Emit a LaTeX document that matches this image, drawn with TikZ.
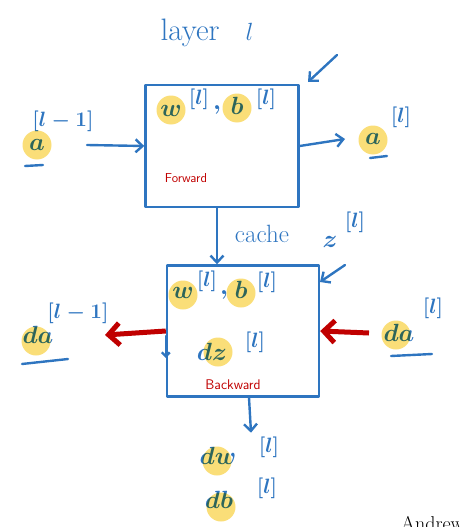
\documentclass[tikz,border=0pt]{standalone}
\usepackage{amsmath,amssymb}
\usetikzlibrary{arrows.meta}

\definecolor{penblue}{RGB}{46,117,192}
\definecolor{hlyellow}{RGB}{250,222,120}
\definecolor{penred}{RGB}{192,0,0}

\begin{document}
\begin{tikzpicture}[x=1pt, y=-1pt,
    pen/.style={penblue, line width=2.4pt, line cap=round, line join=round},
    penarrow/.style={pen, -{Straight Barb[length=7pt, width=13pt]}},
    redarrow/.style={penred, line width=5pt, -{Straight Barb[length=11pt, width=22pt]}},
    box/.style={pen, draw, rectangle, inner sep=0pt},
    var/.style={penblue, inner sep=0pt, font=\fontsize{45}{45}\selectfont\boldmath},
    sup/.style={penblue, inner sep=0pt, font=\fontsize{20}{20}\selectfont\boldmath},
    note/.style={penred, inner sep=0pt, font=\sffamily\fontsize{13}{13}\selectfont}]
  \useasboundingbox (0,0) rectangle (459,527);

  % title
  \node[penblue, font=\fontsize{31}{31}\selectfont] (title) at (207,33) {layer\hspace{26pt}$l$};

  % forward step
  \node[box, minimum width=153pt, minimum height=122pt] (fwd) at (222,146) {};
  \node[var] (w1) at (171,111) {$w$};
  \node[sup] (w1sup) at (199,99) {$[l]$};
  \node[var] (c1) at (217,110) {$,$};
  \node[var] (b1) at (237,106) {$b$};
  \node[sup] (b1sup) at (266,99) {$[l]$};
  \node[note] (fwdlbl) at (186,178) {Forward};

  \node[var] (aprev) at (37,145) {$a$};
  \node[sup] (aprevsup) at (63,121) {$[l-1]$};
  \node[var] (anext) at (373,139) {$a$};
  \node[sup] (anextsup) at (401,117) {$[l]$};

  \draw[penarrow] ([xshift=50]aprev.center) -- (fwd.west);
  \draw[penarrow] (fwd.east) -- ([xshift=-28]anext.center);
  \coordinate (fwdin) at (337,55);
  \coordinate (fwdcorner) at (308,82);
  \draw[penarrow] (fwdin) -- (fwdcorner);

  % cache
  \node[penblue, inner sep=0pt, font=\fontsize{25}{25}\selectfont] (cache) at (262,234) {cache};
  \node[penblue, inner sep=0pt, font=\fontsize{30}{30}\selectfont\boldmath] (z) at (330,242) {$z$};
  \node[sup] (zsup) at (355,222) {$[l]$};

  % backward step
  \node[box, minimum width=152pt, minimum height=131pt] (bwd) at (243,331) {};
  \draw[penarrow] ([xshift=-5]fwd.south) -- ([xshift=-5]fwd.south |- bwd.north);
  \coordinate (bwdin) at (345,265);
  \coordinate (bwdcorner) at (320,282);
  \draw[penarrow] (bwdin) -- (bwdcorner);

  \node[var] (w2) at (183,293) {$w$};
  \node[sup] (w2sup) at (207,281) {$[l]$};
  \node[var] (c2) at (224,295) {$,$};
  \node[var] (b2) at (241,290) {$b$};
  \node[sup] (b2sup) at (267,282) {$[l]$};
  \node[var] (dz) at (212,352) {$dz$};
  \node[sup] (dzsup) at (255,342) {$[l]$};
  \node[note, font=\sffamily\fontsize{14}{14}\selectfont] (bwdlbl) at (233,385) {Backward};

  \node[var] (daR) at (399,333) {$da$};
  \node[sup] (daRsup) at (433,308) {$[l]$};
  \node[var] (daL) at (38,335) {$da$};
  \node[sup] (daLsup) at (78,313) {$[l-1]$};

  \draw[redarrow] ([xshift=-30]daR.center) -- (bwd.east);
  \draw[redarrow] (bwd.west) -- ([xshift=67]daL.center);
  \draw[penarrow, -{Straight Barb[length=4pt, width=8pt]}] ([yshift=-5]bwd.west) -- ([yshift=-27]bwd.west);

  \node[var] (dw) at (218,456) {$dw$};
  \node[sup] (dwsup) at (269,447) {$[l]$};
  \node[var] (db) at (219,500) {$db$};
  \node[sup] (dbsup) at (267,488) {$[l]$};
  \draw[penarrow] ([xshift=6]bwd.south) -- ([xshift=8, yshift=-35]bwd.south);

  % underlines
  \draw[pen] ([shift={(-12,21)}]aprev.center) -- ([shift={(6,20)}]aprev.center);
  \draw[pen] ([shift={(-3,19)}]anext.center) -- ([shift={(14,17)}]anext.center);
  \draw[pen] ([shift={(-8,23)}]daR.center) -- ([shift={(33,21)}]daR.center);
  \draw[pen] ([shift={(-16,29)}]daL.center) -- ([shift={(30,24)}]daL.center);

  % highlighter
  \begin{scope}[blend mode=multiply]
    \foreach \p in {(37,145), (171,110), (237,108), (373,140), (183,295), (241,293),
                    (218,352), (396,335), (36,341), (217,461), (221,507)}
      \fill[hlyellow] \p circle (14.5);
  \end{scope}

  \node[anchor=north west, inner sep=0pt, font=\fontsize{20}{20}\selectfont] (author) at (401,516) {Andrew Ng};
\end{tikzpicture}
\end{document}
